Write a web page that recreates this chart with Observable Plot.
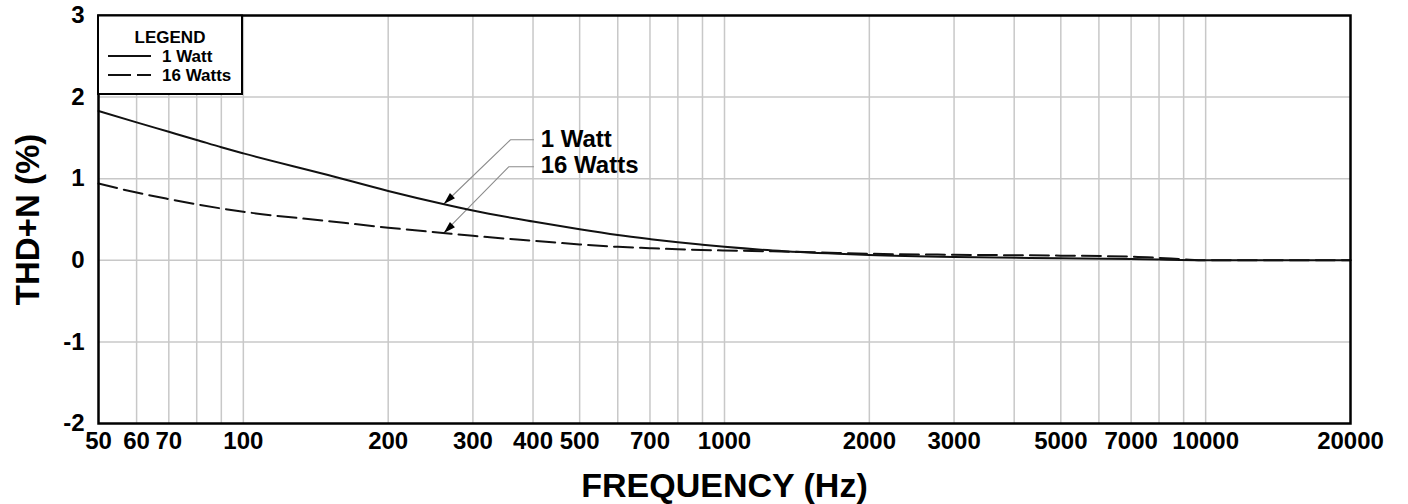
<!DOCTYPE html>
<html>
<head>
<meta charset="utf-8">
<script src="https://cdn.jsdelivr.net/npm/d3@7"></script>
<script src="https://cdn.jsdelivr.net/npm/@observablehq/plot@0.6"></script>
<style>
  html, body { margin: 0; padding: 0; background: #fff; }
  #chart { width: 1408px; height: 504px; }
</style>
</head>
<body>
<div id="chart"></div>
<script>
// ---- data ----
const freq1W = [50, 60, 70, 80, 90, 100, 150, 200, 260, 300, 400, 500, 600, 700, 800, 900, 1000, 1260, 1720, 2000, 3000, 5000, 7000, 10000, 20000];
const thd1W  = [1.83, 1.69, 1.575, 1.475, 1.385, 1.31, 1.045, 0.85, 0.69, 0.61, 0.475, 0.38, 0.31, 0.26, 0.22, 0.19, 0.165, 0.12, 0.08, 0.065, 0.04, 0.025, 0.015, 0, 0];

const freq16W = [50, 60, 70, 80, 90, 100, 150, 200, 260, 300, 400, 500, 600, 700, 800, 1000, 1260, 1720, 2000, 3000, 5000, 7000, 8000, 9000, 10000, 20000];
const thd16W  = [0.94, 0.83, 0.75, 0.685, 0.635, 0.595, 0.48, 0.40, 0.335, 0.30, 0.24, 0.195, 0.165, 0.148, 0.135, 0.12, 0.11, 0.09, 0.08, 0.068, 0.057, 0.045, 0.03, 0.012, 0, 0];

const xTickValues = [50, 60, 70, 100, 200, 300, 400, 500, 700, 1000, 2000, 3000, 5000, 7000, 10000, 20000];
const xGridValues = [60, 70, 80, 90, 100, 200, 300, 400, 500, 600, 700, 800, 900, 1000, 2000, 3000, 4000, 5000, 6000, 7000, 8000, 9000, 10000];
const yTickValues = [-2, -1, 0, 1, 2, 3];
const yGridValues = [-1, 0, 1, 2];

const seriesNames = ["1 Watt", "16 Watts"];
const xTitle = "FREQUENCY (Hz)";
const yTitle = "THD+N (%)";
const legendTitle = "LEGEND";

// annotation: leader lines (data coords) and label anchors
const leader1W  = [{f: 401, v: 1.477}, {f: 359, v: 1.477}, {f: 261, v: 0.69}];
const leader16W = [{f: 401, v: 1.146}, {f: 356, v: 1.146}, {f: 261, v: 0.335}];
const arrowTips = [{f: 261, v: 0.69}, {f: 261, v: 0.335}];
const calloutLabels = [{f: 415, v: 1.485, t: seriesNames[0]}, {f: 415, v: 1.16, t: seriesNames[1]}];

// ---- build tables ----
const s1 = freq1W.map((f, i) => ({f, v: thd1W[i]}));
const s16 = freq16W.map((f, i) => ({f, v: thd16W[i]}));

const FONT = "'Liberation Sans', Arial, Helvetica, sans-serif";
const GRID = "#c8c8c8";

const arrowSymbol = {
  draw(ctx) {
    ctx.moveTo(0, 0);
    ctx.lineTo(-3.6, 12);
    ctx.lineTo(3.6, 12);
    ctx.closePath();
  }
};

const chart = Plot.plot({
  width: 1408,
  height: 504,
  marginLeft: 98,
  marginRight: 58,
  marginTop: 15,
  marginBottom: 81,
  style: {fontFamily: FONT, fontWeight: "bold", fontSize: "24px", color: "#000", background: "#fff"},
  x: {type: "log", domain: [50, 20000], axis: null},
  y: {domain: [-2, 3], axis: null},
  marks: [
    Plot.ruleX(xGridValues, {stroke: GRID, strokeWidth: 1.5}),
    Plot.ruleY(yGridValues, {stroke: GRID, strokeWidth: 1.5}),
    Plot.line(leader1W, {x: "f", y: "v", stroke: "#8c8c8c", strokeWidth: 1.1}),
    Plot.line(leader16W, {x: "f", y: "v", stroke: "#8c8c8c", strokeWidth: 1.1}),
    Plot.line(s16, {x: "f", y: "v", stroke: "#111", strokeWidth: 2, strokeDasharray: "19,7", curve: "monotone-x"}),
    Plot.line(s1, {x: "f", y: "v", stroke: "#111", strokeWidth: 2, curve: "monotone-x"}),
    Plot.dot(arrowTips, {x: "f", y: "v", symbol: arrowSymbol, fill: "#000", stroke: "none", rotate: 226}),
    Plot.text(calloutLabels, {x: "f", y: "v", text: "t", textAnchor: "start", lineAnchor: "middle", fontSize: 24, fontWeight: "bold", fill: "#000"}),
    Plot.frame({stroke: "#000", strokeWidth: 2.5}),
    // tick labels
    Plot.text(xTickValues, {x: d => d, frameAnchor: "bottom", dy: 18, text: d => String(d), textAnchor: "middle", lineAnchor: "middle", fontSize: 24, fill: "#000"}),
    Plot.text(yTickValues, {y: d => d, frameAnchor: "left", dx: -14, text: d => String(d), textAnchor: "end", lineAnchor: "middle", fontSize: 24, fill: "#000"}),
    // axis titles
    Plot.text([xTitle], {frameAnchor: "bottom", dy: 63, text: d => d, textAnchor: "middle", lineAnchor: "middle", fontSize: 34, fontWeight: "bold", fill: "#000"}),
    Plot.text([yTitle], {frameAnchor: "left", dx: -70, rotate: -90, text: d => d, textAnchor: "middle", lineAnchor: "middle", fontSize: 33, fontWeight: "bold", fill: "#000"})
  ]
});

// ---- legend box (top-left inside the frame) ----
const svg = d3.select(chart);
const g = svg.append("g").attr("font-family", FONT).attr("font-weight", "bold").style("font-size", "17px");
g.append("rect").attr("x", 98).attr("y", 15.5).attr("width", 144).attr("height", 78.5)
  .attr("fill", "#fff").attr("stroke", "#000").attr("stroke-width", 2);
g.append("text").attr("x", 170).attr("y", 37).attr("text-anchor", "middle").attr("dominant-baseline", "central").text(legendTitle);
g.append("line").attr("x1", 108).attr("x2", 151).attr("y1", 56).attr("y2", 56).attr("stroke", "#111").attr("stroke-width", 1.8);
g.append("text").attr("x", 162).attr("y", 56.5).attr("text-anchor", "start").attr("dominant-baseline", "central").text(seriesNames[0]);
g.append("line").attr("x1", 108).attr("x2", 151).attr("y1", 75).attr("y2", 75).attr("stroke", "#111").attr("stroke-width", 1.8).attr("stroke-dasharray", "23,6");
g.append("text").attr("x", 162).attr("y", 75.5).attr("text-anchor", "start").attr("dominant-baseline", "central").text(seriesNames[1]);

document.getElementById("chart").appendChild(chart);
</script>
</body>
</html>
